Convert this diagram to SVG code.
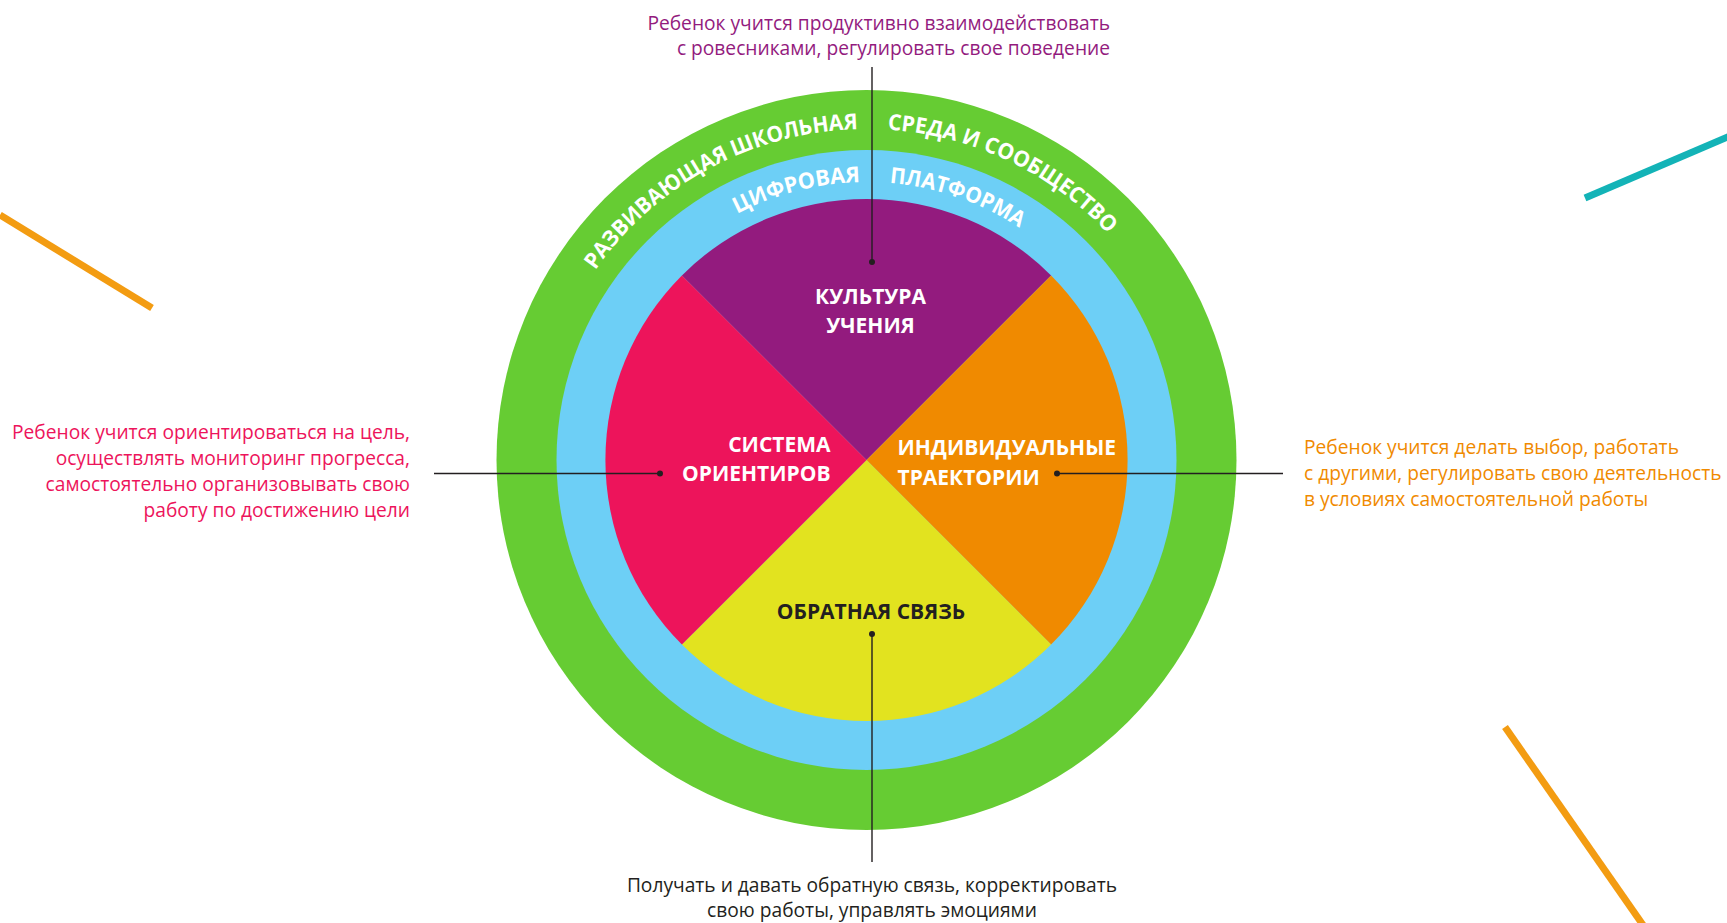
<svg xmlns="http://www.w3.org/2000/svg" xmlns:xlink="http://www.w3.org/1999/xlink" width="1727" height="923" viewBox="0 0 1727 923">
<style>
.lbl{font-family:"Open Sans","Noto Sans",sans-serif;font-weight:700;font-size:21px;fill:#ffffff}
.ring{font-family:"Open Sans","Noto Sans",sans-serif;font-weight:700;font-size:22px;fill:#ffffff}
.desc{font-family:"Open Sans","Noto Sans",sans-serif;font-size:19.2px}
.conn{stroke:#231f20;stroke-width:1.4;fill:none}
.dot{fill:#231f20}
.deco{stroke-width:7;stroke-linecap:butt;fill:none}
</style>
<defs>
<path id="gL" d="M535.5 460 A331 331 0 0 1 866.5 129"/>
<path id="gR" d="M866.5 129 A331 331 0 0 1 1197.5 460"/>
<path id="bL" d="M588.5 460 A278 278 0 0 1 866.5 182"/>
<path id="bR" d="M866.5 182 A278 278 0 0 1 1144.5 460"/>
</defs>
<rect width="1727" height="923" fill="#ffffff"/>
<g id="decorations">
<line class="deco" x1="0" y1="215" x2="152" y2="308" stroke="#f39c12"/>
<line class="deco" x1="1585" y1="198" x2="1730" y2="136" stroke="#13b3b7"/>
<line class="deco" x1="1505" y1="727" x2="1643" y2="925" stroke="#f39c12"/>
</g>
<g id="ring-green">
<circle cx="866.5" cy="460" r="370" fill="#66cc33"/>
<text class="ring" font-size="23"><textPath xlink:href="#gL" href="#gL" startOffset="202" textLength="309" lengthAdjust="spacingAndGlyphs">РАЗВИВАЮЩАЯ ШКОЛЬНАЯ</textPath></text>
<text class="ring" font-size="23"><textPath xlink:href="#gR" href="#gR" startOffset="21" textLength="250" lengthAdjust="spacingAndGlyphs">СРЕДА И СООБЩЕСТВО</textPath></text>
</g>
<g id="ring-blue">
<circle cx="866.5" cy="460" r="310" fill="#6dcff6"/>
<text class="ring"><textPath xlink:href="#bL" href="#bL" startOffset="302" textLength="128" lengthAdjust="spacingAndGlyphs">ЦИФРОВАЯ</textPath></text>
<text class="ring"><textPath xlink:href="#bR" href="#bR" startOffset="23" textLength="139" lengthAdjust="spacingAndGlyphs">ПЛАТФОРМА</textPath></text>
</g>
<g id="sector-culture">
<path d="M866.5 460 L681.9 275.4 A261 261 0 0 1 1051.1 275.4 Z" fill="#931b7e"/>
<text class="lbl" x="870.5" y="304" text-anchor="middle">КУЛЬТУРА</text>
<text class="lbl" x="870.5" y="332.5" text-anchor="middle">УЧЕНИЯ</text>
</g>
<g id="sector-trajectories">
<path d="M866.5 460 L1051.1 275.4 A261 261 0 0 1 1051.1 644.6 Z" fill="#f08a00"/>
<text class="lbl" x="897.5" y="455">ИНДИВИДУАЛЬНЫЕ</text>
<text class="lbl" x="897.5" y="484.5">ТРАЕКТОРИИ</text>
</g>
<g id="sector-feedback">
<path d="M866.5 460 L1051.1 644.6 A261 261 0 0 1 681.9 644.6 Z" fill="#e2e31f"/>
<text class="lbl" x="871" y="619" text-anchor="middle" style="fill:#231f20">ОБРАТНАЯ СВЯЗЬ</text>
</g>
<g id="sector-orientation">
<path d="M866.5 460 L681.9 644.6 A261 261 0 0 1 681.9 275.4 Z" fill="#ed145b"/>
<text class="lbl" x="830.5" y="451.5" text-anchor="end">СИСТЕМА</text>
<text class="lbl" x="830.5" y="481" text-anchor="end">ОРИЕНТИРОВ</text>
</g>
<g id="connectors">
<line class="conn" x1="872" y1="67" x2="872" y2="262"/>
<circle class="dot" cx="872" cy="262" r="3"/>
<line class="conn" x1="872" y1="634" x2="872" y2="862"/>
<circle class="dot" cx="872" cy="634" r="3"/>
<line class="conn" x1="434" y1="473.5" x2="660" y2="473.5"/>
<circle class="dot" cx="660" cy="473.5" r="3"/>
<line class="conn" x1="1057" y1="473.5" x2="1283" y2="473.5"/>
<circle class="dot" cx="1057" cy="473.5" r="3"/>
</g>
<g id="desc-top">
<text class="desc" fill="#931b7e" text-anchor="end"><tspan x="1110" y="30">Ребенок учится продуктивно взаимодействовать</tspan><tspan x="1110" y="55">с ровесниками, регулировать свое поведение</tspan></text>
</g>
<g id="desc-left">
<text class="desc" fill="#ed145b" text-anchor="end"><tspan x="410" y="439">Ребенок учится ориентироваться на цель,</tspan><tspan x="410" y="465">осуществлять мониторинг прогресса,</tspan><tspan x="410" y="491">самостоятельно организовывать свою</tspan><tspan x="410" y="517">работу по достижению цели</tspan></text>
</g>
<g id="desc-right">
<text class="desc" fill="#f08a00"><tspan x="1304" y="454">Ребенок учится делать выбор, работать</tspan><tspan x="1304" y="480">с другими, регулировать свою деятельность</tspan><tspan x="1304" y="506">в условиях самостоятельной работы</tspan></text>
</g>
<g id="desc-bottom">
<text class="desc" fill="#231f20" text-anchor="middle"><tspan x="872" y="892">Получать и давать обратную связь, корректировать</tspan><tspan x="872" y="917">свою работы, управлять эмоциями</tspan></text>
</g>
</svg>
